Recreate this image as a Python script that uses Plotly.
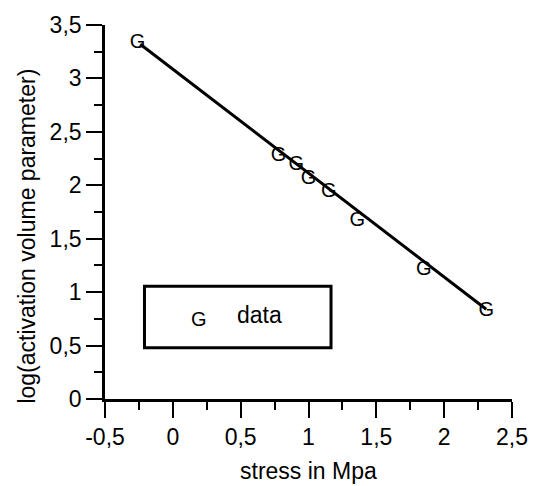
import plotly.graph_objects as go

# data
stress = [-0.26, 0.78, 0.91, 1.0, 1.15, 1.36, 1.85, 2.31]
log_act_vol = [3.33, 2.27, 2.19, 2.06, 1.94, 1.67, 1.21, 0.82]
fit_x = [-0.24, 2.31]
fit_y = [3.32, 0.84]

x_ticks = [-0.5, 0, 0.5, 1, 1.5, 2, 2.5]
x_ticktext = ["-0,5", "0", "0,5", "1", "1,5", "2", "2,5"]
y_ticks = [0, 0.5, 1, 1.5, 2, 2.5, 3, 3.5]
y_ticktext = ["0", "0,5", "1", "1,5", "2", "2,5", "3", "3,5"]

FONT = "Liberation Sans, Arial, sans-serif"
FS = 23
GS = 20

fig = go.Figure()
fig.add_trace(go.Scatter(x=fit_x, y=fit_y, mode="lines",
                         line=dict(color="black", width=3), showlegend=False,
                         hoverinfo="skip"))
fig.add_trace(go.Scatter(x=stress, y=log_act_vol, mode="text", text=["G"] * len(stress),
                         textposition="middle center",
                         textfont=dict(family=FONT, size=GS, color="black"),
                         showlegend=False))

axis_common = dict(showline=True, linecolor="black", linewidth=2.6, showgrid=False,
                   zeroline=False, ticks="outside", ticklen=16, tickwidth=1.6,
                   tickcolor="black", tickfont=dict(family=FONT, size=FS, color="black"))

fig.update_xaxes(range=[-0.5, 2.5], tickmode="array", tickvals=x_ticks, ticktext=x_ticktext,
                 minor=dict(tickmode="linear", tick0=-0.5, dtick=0.25, ticks="outside",
                            ticklen=8, tickwidth=1.6, tickcolor="black"),
                 **axis_common)
fig.update_yaxes(range=[0, 3.5], tickmode="array", tickvals=y_ticks, ticktext=y_ticktext,
                 minor=dict(tickmode="linear", tick0=0, dtick=0.25, ticks="outside",
                            ticklen=8, tickwidth=1.6, tickcolor="black"),
                 **axis_common)

# legend box
fig.add_shape(type="rect", xref="x", yref="y", x0=-0.209, x1=1.166, y0=0.479, y1=1.056,
              line=dict(color="black", width=3), fillcolor="white", layer="above")
fig.add_annotation(xref="x", yref="y", x=0.19, y=0.75, text="G", showarrow=False,
                   font=dict(family=FONT, size=GS, color="black"))
fig.add_annotation(xref="x", yref="y", x=0.64, y=0.79, text="data", showarrow=False,
                   font=dict(family=FONT, size=FS, color="black"))

# axis titles
fig.add_annotation(xref="paper", yref="paper", x=0.5, y=-0.193, text="stress in Mpa",
                   showarrow=False, xanchor="center", yanchor="middle",
                   font=dict(family=FONT, size=FS, color="black"))
fig.add_annotation(xref="paper", yref="paper", x=-0.192, y=0.4365,
                   text="log(activation volume parameter)", textangle=-90,
                   showarrow=False, xanchor="center", yanchor="middle",
                   font=dict(family=FONT, size=FS, color="black"))

fig.update_layout(width=540, height=486, autosize=False,
                  margin=dict(l=105, r=19, t=21, b=87),
                  paper_bgcolor="white", plot_bgcolor="white",
                  font=dict(family=FONT, size=FS, color="black"))

fig.write_html("out.html")
